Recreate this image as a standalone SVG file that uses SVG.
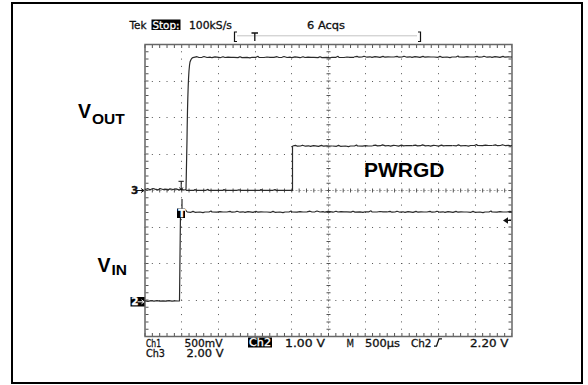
<svg xmlns="http://www.w3.org/2000/svg" xmlns:xlink="http://www.w3.org/1999/xlink" width="588" height="385" viewBox="0 0 588 385">
<style>
.scope{font-family:"DejaVu Sans","Liberation Sans",sans-serif;font-size:10.5px;fill:#111;stroke:#111;stroke-width:0.3}
.inv{fill:#fff;stroke:#fff}
.lbl{font-family:"Liberation Sans",Arial,sans-serif;font-weight:bold;fill:#000}
.grid{stroke:#555;stroke-width:1;fill:none;stroke-dasharray:1 6.34}
.gridv{stroke:#555;stroke-width:1;fill:none;stroke-dasharray:1 6.3}
.tick{stroke:#555;fill:none}
.trace{stroke:#2a2a2a;stroke-width:1.2;fill:none;stroke-linejoin:round}
</style>
<defs>
<path id="n1" d="M0,0 l3,-0.6 l2,0.8 l3,-0.2 l2,-0.8 l3,1 l3,-0.4 l2,0.6 l3,-0.8 l2,0.2 l3,0.6 l3,-1 l2,0.8 l3,-0.4 l3,0.2 l3,0"/>
<path id="n2" d="M0,0 l4,0.3 l2,-0.9 l2,0.9 l5,-0.3 l3,0.6 l2,-0.6 l4,0 l2,-1 l1,1 l5,0.2 l3,-0.5 l3,0.3 l4,0"/>
<clipPath id="gclip"><rect x="145" y="40" width="367" height="300"/></clipPath>
</defs>
<rect id="frame" x="12" y="3" width="570" height="380" fill="#fff" stroke="#000" stroke-width="2"/>
<g id="graticule">
<g id="gridlines">
<line class="gridv" x1="181.5" y1="44" x2="181.5" y2="337"/>
<line class="gridv" x1="218.5" y1="44" x2="218.5" y2="337"/>
<line class="gridv" x1="255.5" y1="44" x2="255.5" y2="337"/>
<line class="gridv" x1="291.5" y1="44" x2="291.5" y2="337"/>
<line class="gridv" x1="365.5" y1="44" x2="365.5" y2="337"/>
<line class="gridv" x1="401.5" y1="44" x2="401.5" y2="337"/>
<line class="gridv" x1="438.5" y1="44" x2="438.5" y2="337"/>
<line class="gridv" x1="475.5" y1="44" x2="475.5" y2="337"/>
<line class="grid" x1="144.5" y1="81.5" x2="512" y2="81.5"/>
<line class="grid" x1="144.5" y1="117.5" x2="512" y2="117.5"/>
<line class="grid" x1="144.5" y1="154.5" x2="512" y2="154.5"/>
<line class="grid" x1="144.5" y1="227.5" x2="512" y2="227.5"/>
<line class="grid" x1="144.5" y1="263.5" x2="512" y2="263.5"/>
<line class="grid" x1="144.5" y1="300.5" x2="512" y2="300.5"/>
</g>
<g id="axes">
<line x1="145" y1="190.5" x2="512" y2="190.5" stroke="#888" stroke-width="0.7" stroke-dasharray="2 1.67"/>
<line x1="328.5" y1="44.5" x2="328.5" y2="336.5" stroke="#888" stroke-width="0.7" stroke-dasharray="2 1.65"/>
<line class="tick" x1="144.5" y1="190.5" x2="512" y2="190.5" stroke-width="4" stroke-dasharray="1 6.34"/>
<line class="tick" x1="328.5" y1="44" x2="328.5" y2="337" stroke-width="4" stroke-dasharray="1 6.3"/>
<line class="tick" x1="144.5" y1="46.5" x2="512" y2="46.5" stroke-width="3" stroke-dasharray="1 6.34"/>
<line class="tick" x1="144.5" y1="334.5" x2="512" y2="334.5" stroke-width="3" stroke-dasharray="1 6.34"/>
<line class="tick" x1="147" y1="44" x2="147" y2="337" stroke-width="3" stroke-dasharray="1 6.3"/>
<line class="tick" x1="510" y1="44" x2="510" y2="337" stroke-width="3" stroke-dasharray="1 6.3"/>
</g>
<rect x="145" y="44.5" width="367" height="292" fill="none" stroke="#666" stroke-width="1.5"/>
</g>
<g id="traces" clip-path="url(#gclip)">
<g id="vout">
<path class="trace" d="M145,189.5 l3,-0.8 l2,1 l3,-1.2 l2,0.6 l3,0.8 l2,-1.4 l3,1 l2,-0.4 l3,0.8 l2,-1 l3,0.6 l3,-0.6 l3,1 l3,-0.5 l2,0.6 l2,-0.5 L187,140 C187.6,95 188.3,70 190,62 C191,58.5 192,57.3 194,57.3"/>
<use class="trace" xlink:href="#n1" x="194" y="57.3"/>
<use class="trace" xlink:href="#n2" x="234" y="57.3"/>
<use class="trace" xlink:href="#n1" x="274" y="57.3"/>
<use class="trace" xlink:href="#n2" x="314" y="57.3"/>
<use class="trace" xlink:href="#n1" x="354" y="57"/>
<use class="trace" xlink:href="#n1" x="394" y="57"/>
<use class="trace" xlink:href="#n2" x="434" y="57"/>
<use class="trace" xlink:href="#n1" x="474" y="57"/>
</g>
<g id="pwrgd">
<path class="trace" d="M186,190.3 h8 l1,-0.8 l1,0.8 h10 l2,-1 l1,1 h14 l1,-0.8 l1,0.8 h12 l2,-0.6 l1,0.6 h20 l1,-0.8 l1,0.8 h11 l2,-0.8 l1,0.8 h16.5 V146"/>
<use class="trace" xlink:href="#n1" x="292.5" y="146"/>
<use class="trace" xlink:href="#n2" x="332.5" y="146"/>
<use class="trace" xlink:href="#n1" x="372.5" y="145.7"/>
<use class="trace" xlink:href="#n1" x="412.5" y="145.7"/>
<use class="trace" xlink:href="#n2" x="452.5" y="145.5"/>
<use class="trace" xlink:href="#n1" x="492.5" y="145.5"/>
</g>
<g id="vin">
<path class="trace" d="M145,300.8 l3,0.5 l3,-0.6 l3,0.4 l3,-0.5 l3,0.6 l3,-0.4 l3,0.3 l3,-0.5 l3,0.5 l3,-0.3 l3,0.2 l1.5,-0.2 L180.5,212"/>
<path class="trace" d="M182,199 V209 M185,209 L187,212"/>
<use class="trace" xlink:href="#n2" x="187" y="212"/>
<use class="trace" xlink:href="#n1" x="227" y="212"/>
<use class="trace" xlink:href="#n2" x="267" y="212"/>
<use class="trace" xlink:href="#n1" x="307" y="211.8"/>
<use class="trace" xlink:href="#n2" x="347" y="211.8"/>
<use class="trace" xlink:href="#n1" x="387" y="212"/>
<use class="trace" xlink:href="#n1" x="427" y="212"/>
<use class="trace" xlink:href="#n2" x="467" y="212"/>
<use class="trace" xlink:href="#n1" x="507" y="212"/>
</g>
</g>
<g id="markers">
<g id="ch3-marker">
<text class="scope" x="131" y="194.2" font-size="10" font-weight="bold">3</text>
<path d="M136.5,190.5 H143.5 M141,188.5 L144,190.5 L141,192.5" stroke="#111" stroke-width="1" fill="none"/>
</g>
<g id="ch2-marker">
<rect x="130.5" y="297" width="14" height="9.5" fill="#000"/>
<text class="scope inv" x="131.3" y="305.3" font-size="9.5" font-weight="bold">2</text>
<path d="M137.5,301.8 H143.5 M141.5,299.8 L144,301.8 L141.5,303.8" stroke="#fff" stroke-width="1" fill="none"/>
</g>
<g id="trig-pos">
<path d="M178.5,181.3 H183.8 M181.2,181.3 V189.5 M179.5,187.5 L181.2,189.8 L182.9,187.5" stroke="#111" stroke-width="1" fill="none"/>
</g>
<g id="trig-box">
<rect x="177" y="208.5" width="8" height="9.5" fill="#000"/>
<text class="scope inv" x="178.2" y="216.8" font-size="9.5" font-weight="bold">T</text>
</g>
<g id="trig-level">
<path d="M503,220.5 L508,217.3 L508,223.7 Z" fill="#111"/>
<line x1="507" y1="220.5" x2="511" y2="220.5" stroke="#111" stroke-width="1"/>
</g>
</g>
<g id="header">
<text class="scope" x="129.5" y="28.5" textLength="17" lengthAdjust="spacingAndGlyphs">Tek</text>
<rect x="151.5" y="19.5" width="29" height="10.5" fill="#000"/>
<text class="scope inv" x="152.5" y="28.5" textLength="27" lengthAdjust="spacingAndGlyphs">Stop:</text>
<text class="scope" x="189" y="28.5" textLength="43" lengthAdjust="spacingAndGlyphs">100kS/s</text>
<text class="scope" x="307" y="28.5" textLength="38" lengthAdjust="spacingAndGlyphs">6 Acqs</text>
<path d="M237,32 H234.5 V41.5 H237 M418,32 H420.5 V41.5 H418" stroke="#111" stroke-width="1.2" fill="none"/>
<line x1="237.5" y1="35.8" x2="417.5" y2="35.8" stroke="#888" stroke-width="1" stroke-dasharray="1 1"/>
<path d="M251.5,33 H258 M254.8,33 V41" stroke="#111" stroke-width="1.3" fill="none"/>
</g>
<g id="footer">
<text class="scope" x="146" y="346.5" textLength="15" lengthAdjust="spacingAndGlyphs">Ch1</text>
<text class="scope" x="184.5" y="346.5" textLength="38" lengthAdjust="spacingAndGlyphs">500mV</text>
<rect x="248" y="337.5" width="24" height="10" fill="#000"/>
<text class="scope inv" x="249" y="346.3" textLength="22" lengthAdjust="spacingAndGlyphs">Ch2</text>
<text class="scope" x="285" y="346.5" textLength="40" lengthAdjust="spacingAndGlyphs">1.00 V</text>
<text class="scope" x="346.5" y="346.5" textLength="7.5" lengthAdjust="spacingAndGlyphs">M</text>
<text class="scope" x="365" y="346.5" textLength="35" lengthAdjust="spacingAndGlyphs">500µs</text>
<text class="scope" x="411" y="346.5" textLength="20.5" lengthAdjust="spacingAndGlyphs">Ch2</text>
<path d="M434,346.2 H436.5 L439,338.8 H442" stroke="#111" stroke-width="1.3" fill="none"/>
<text class="scope" x="470" y="346.5" textLength="38.5" lengthAdjust="spacingAndGlyphs">2.20 V</text>
<text class="scope" x="146" y="357" textLength="19" lengthAdjust="spacingAndGlyphs">Ch3</text>
<text class="scope" x="186.5" y="357" textLength="37" lengthAdjust="spacingAndGlyphs">2.00 V</text>
</g>
<g id="labels">
<g id="label-vout"><text class="lbl" x="78" y="118" font-size="19.5">V</text><text class="lbl" x="92" y="124" font-size="15.5">OUT</text></g>
<g id="label-vin"><text class="lbl" x="97.5" y="272" font-size="19.5">V</text><text class="lbl" x="111.5" y="274.5" font-size="15.5">IN</text></g>
<g id="label-pwrgd"><text class="lbl" x="364" y="177" font-size="21">PWRGD</text></g>
</g>
</svg>
